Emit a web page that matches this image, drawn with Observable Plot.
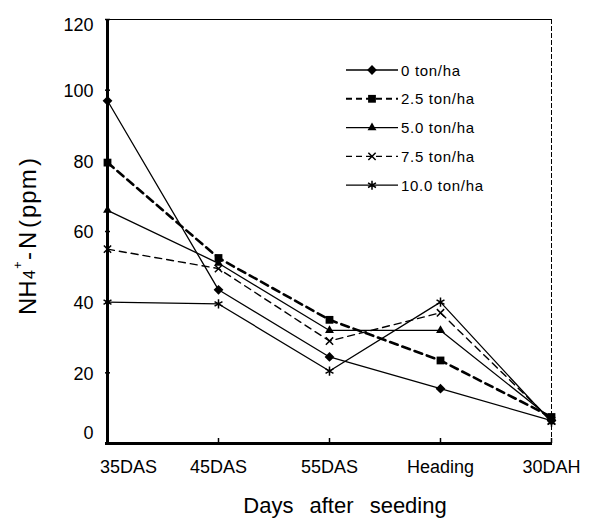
<!DOCTYPE html>
<html>
<head>
<meta charset="utf-8">
<script src="https://cdn.jsdelivr.net/npm/d3@7"></script>
<script src="https://cdn.jsdelivr.net/npm/@observablehq/plot@0.6"></script>
<style>
  html, body { margin: 0; padding: 0; background: #fff; }
  #chart svg { display: block; }
</style>
</head>
<body>
<div id="chart"></div>
<script>
// ---- data ----
const categories = ["35DAS", "45DAS", "55DAS", "Heading", "30DAH"];
const seriesNames = ["0 ton/ha", "2.5 ton/ha", "5.0 ton/ha", "7.5 ton/ha", "10.0 ton/ha"];
const v0   = [97, 43.5, 24.5, 15.5, 6.5];
const v25  = [79.5, 52.5, 35, 23.5, 7.5];
const v50  = [66, 51, 32, 32, 7];
const v75  = [55, 49.5, 29, 37, 6.5];
const v100 = [40, 39.5, 20.5, 40, 6];
const yTicks = [0, 20, 40, 60, 80, 100, 120];
const xTitle = "Days after seeding";

// ---- styles ----
const seriesValues = [v0, v25, v50, v75, v100];
const symbols = ["diamond2", "square", "triangle", "times", "asterisk"];
const symbolFns = [d3.symbolDiamond2, d3.symbolSquare, d3.symbolTriangle, d3.symbolTimes, d3.symbolAsterisk];
const filled = [true, true, true, false, false];
const radii = [4.4, 4.4, 3.3, 3.4, 4.3];
const lineWidths = [1.3, 2.6, 1.3, 1.4, 1.3];
const dashes = [null, "8,5", null, "7,5", null];

const tables = seriesNames.map((name, i) =>
  categories.map((c, j) => ({ series: name, day: c, value: seriesValues[i][j] }))
);

const font = '"Liberation Sans", Arial, sans-serif';

const marks = [];
marks.push(Plot.ruleY([120], { stroke: "#000", strokeWidth: 1.2 }));
marks.push(Plot.ruleX([categories[categories.length - 1]], { stroke: "#000", strokeWidth: 1, strokeDasharray: "5,2" }));

tables.forEach((t, i) => {
  marks.push(Plot.line(t, {
    x: "day", y: "value", stroke: "#000",
    strokeWidth: lineWidths[i], strokeDasharray: dashes[i]
  }));
});
tables.forEach((t, i) => {
  marks.push(Plot.dot(t, filled[i]
    ? { x: "day", y: "value", symbol: () => symbols[i], r: radii[i], fill: "#000", stroke: "none" }
    : { x: "day", y: "value", symbol: () => symbols[i], r: radii[i], fill: "none", stroke: "#000", strokeWidth: 1.5 }));
});

// inward tick marks
marks.push(Plot.axisY({ ticks: yTicks, tickSize: 5, dx: 5, fill: "none", label: null, strokeWidth: 1.5 }));
marks.push(Plot.axisX({ tickSize: 5, dy: -5, fill: "none", label: null, strokeWidth: 1.5 }));
// tick labels
marks.push(Plot.axisY({ ticks: yTicks.slice(1, -1), tickSize: 0, tickPadding: 12, dy: 1, fontSize: 18, label: null }));
marks.push(Plot.axisY({ ticks: [yTicks[0]], tickSize: 0, tickPadding: 12, dy: -10, fontSize: 18, label: null }));
marks.push(Plot.axisY({ ticks: [yTicks[yTicks.length - 1]], tickSize: 0, tickPadding: 12, dy: 6, fontSize: 18, label: null }));
marks.push(Plot.axisX({ ticks: categories.slice(1), tickSize: 0, tickPadding: 17, fontSize: 18, label: null }));
marks.push(Plot.axisX({ ticks: [categories[0]], tickSize: 0, tickPadding: 17, dx: 21, fontSize: 18, label: null }));
// main axis lines
marks.push(Plot.ruleX([categories[0]], { stroke: "#000", strokeWidth: 3 }));
marks.push(Plot.ruleY([0], { stroke: "#000", strokeWidth: 3 }));

const chart = Plot.plot({
  width: 589,
  height: 520,
  marginLeft: 105,
  marginRight: 37,
  marginTop: 19,
  marginBottom: 77,
  style: { fontFamily: font, background: "#fff", color: "#000" },
  x: { type: "point", domain: categories, padding: 0, label: null },
  y: { type: "linear", domain: [0, 120], label: null },
  marks
});

const svg = d3.select(chart);

// y axis title with sub/superscript
const yl = svg.append("text")
  .attr("transform", "translate(36,315) rotate(-90)")
  .attr("text-anchor", "start")
  .attr("font-family", font)
  .attr("fill", "#000");
yl.append("tspan").attr("x", 0).attr("y", 0).attr("font-size", 24).text("NH");
yl.append("tspan").attr("x", 36).attr("y", -1).attr("font-size", 16).text("4");
yl.append("tspan").attr("x", 46).attr("y", -14).attr("font-size", 13).text("+");
yl.append("tspan").attr("x", 55).attr("y", 0).attr("font-size", 24).text("-");
yl.append("tspan").attr("x", 66).attr("y", 0).attr("font-size", 24).text("N");
yl.append("tspan").attr("x", 87).attr("y", 0).attr("font-size", 24).text("(");
yl.append("tspan").attr("x", 97).attr("y", 0).attr("font-size", 24).attr("letter-spacing", 1).text("ppm");
yl.append("tspan").attr("x", 149).attr("y", 0).attr("font-size", 24).text(")");

// x axis title
svg.append("text")
  .attr("x", 345).attr("y", 513)
  .attr("text-anchor", "middle")
  .attr("font-family", font)
  .attr("font-size", 22)
  .attr("word-spacing", 10)
  .attr("fill", "#000")
  .text(xTitle);

// legend
const lg = svg.append("g").attr("font-family", font).attr("font-size", 15).attr("text-anchor", "start");
seriesNames.forEach((name, i) => {
  const y = 70 + i * 28.8;
  lg.append("line")
    .attr("x1", 346).attr("x2", 398).attr("y1", y).attr("y2", y)
    .attr("stroke", "#000").attr("stroke-width", i === 1 ? 2 : 1.3)
    .attr("stroke-dasharray", dashes[i] ? "6,4" : null);
  const p = d3.symbol(symbolFns[i], Math.PI * radii[i] * radii[i])();
  lg.append("path")
    .attr("d", p)
    .attr("transform", `translate(372,${y})`)
    .attr("fill", filled[i] ? "#000" : "none")
    .attr("stroke", filled[i] ? "none" : "#000")
    .attr("stroke-width", 1.5);
  lg.append("text")
    .attr("x", 401).attr("y", y + 5.5)
    .attr("text-anchor", "start")
    .attr("fill", "#000")
    .attr("letter-spacing", 0.7)
    .text(name);
});

document.getElementById("chart").appendChild(chart);
</script>
</body>
</html>
